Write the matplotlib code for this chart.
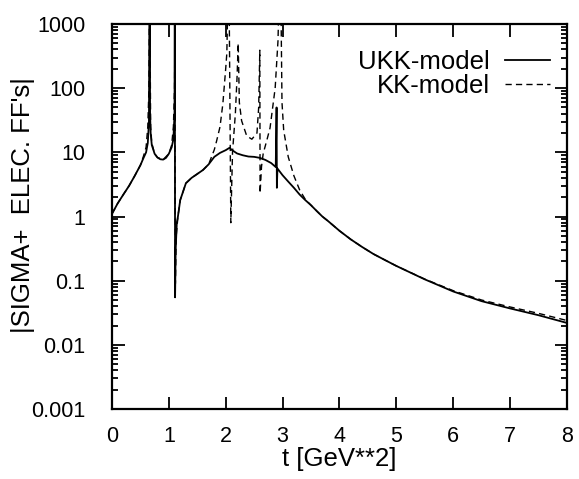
import numpy as np
import matplotlib
matplotlib.use("Agg")
import matplotlib.pyplot as plt
from matplotlib.ticker import FixedLocator, LogLocator, NullFormatter

# UKK-model (solid), |G_E| of Sigma+ vs t
t_ukk = [0.0, 0.1, 0.2, 0.3, 0.4, 0.5, 0.55, 0.6, 0.63, 0.65, 0.66, 0.665, 0.67,
         0.68, 0.7, 0.75, 0.8, 0.85, 0.9, 0.95, 1.0, 1.05, 1.08, 1.1, 1.105,
         1.11, 1.12, 1.14, 1.16, 1.2, 1.3, 1.4, 1.5, 1.6, 1.7, 1.8, 1.9, 2.0,
         2.07, 2.1, 2.2, 2.3, 2.4, 2.5, 2.6, 2.7, 2.8, 2.88, 2.895, 2.9, 2.91,
         3.0, 3.1, 3.2, 3.3, 3.4, 3.5, 3.6, 3.7, 3.8, 4.0, 4.2, 4.4, 4.6, 4.8,
         5.0, 5.5, 6.0, 6.5, 7.0, 7.5, 8.0]
ff_ukk = [1.1, 1.6, 2.2, 3.0, 4.3, 6.3, 8.0, 10.0, 14.0, 30.0, 3000, 3000, 40.0,
          20.0, 13.0, 9.5, 8.3, 7.8, 7.7, 8.2, 9.5, 12.0, 16.0, 40.0, 3000,
          0.055, 0.3, 0.8, 1.0, 1.8, 3.3, 4.0, 4.6, 5.3, 6.5, 8.5, 9.8, 10.8,
          11.8, 11.0, 9.6, 9.0, 8.6, 8.5, 8.2, 7.6, 6.8, 5.9, 50.0, 2.8, 5.6,
          4.4, 3.5, 2.8, 2.2, 1.8, 1.5, 1.22, 1.0, 0.85, 0.6, 0.44, 0.335, 0.26,
          0.21, 0.17, 0.105, 0.068, 0.048, 0.037, 0.029, 0.022]

# KK-model (dashed)
t_kk = [0.0, 0.1, 0.2, 0.3, 0.4, 0.5, 0.55, 0.6, 0.63, 0.65, 0.66, 0.665, 0.68,
        0.7, 0.75, 0.8, 0.9, 1.0, 1.05, 1.08, 1.1, 1.105, 1.115, 1.13, 1.16,
        1.2, 1.3, 1.4, 1.5, 1.6, 1.7, 1.8, 1.84, 1.9, 1.95, 2.0, 2.02, 2.04,
        2.06, 2.09, 2.12, 2.17, 2.2, 2.22, 2.24, 2.28, 2.37, 2.46, 2.55, 2.58,
        2.6, 2.605, 2.63, 2.66, 2.72, 2.78, 2.87, 2.92, 2.94, 2.97, 2.99, 3.02,
        3.1, 3.2, 3.3, 3.4, 3.5, 3.6, 3.7, 3.8, 4.0, 4.2, 4.4, 4.6, 4.8, 5.0,
        5.5, 6.0, 6.5, 7.0, 7.5, 8.0]
ff_kk = [1.1, 1.6, 2.2, 3.0, 4.3, 6.3, 8.5, 12.0, 25.0, 100.0, 3000, 3000, 25.0,
         14.0, 9.5, 8.3, 7.7, 9.5, 13.0, 25.0, 100.0, 400.0, 0.09, 0.5, 1.0,
         1.8, 3.3, 4.0, 4.6, 5.3, 6.5, 11.0, 15.0, 25.0, 57.0, 200.0, 350.0, 3000,
         3000, 0.8, 10.0, 40.0, 150.0, 500.0, 60.0, 31.0, 18.0, 16.0, 20.0, 50.0,
         390.0, 2.3, 6.0, 9.6, 15.0, 24.0, 100.0, 550.0, 3000, 3000, 60.0, 22.0,
         8.5, 4.3, 2.6, 1.85, 1.5, 1.22, 1.0, 0.85, 0.6, 0.44, 0.335, 0.26,
         0.21, 0.17, 0.106, 0.07, 0.05, 0.039, 0.031, 0.024]

x_ticks = [0, 1, 2, 3, 4, 5, 6, 7, 8]
y_ticks = [0.001, 0.01, 0.1, 1, 10, 100, 1000]
y_tick_labels = ["0.001", "0.01", "0.1", "1", "10", "100", "1000"]

plt.rcParams['font.family'] = ['Liberation Sans', 'DejaVu Sans']

fig = plt.figure(figsize=(5.79, 4.79), dpi=100)
ax = fig.add_axes([0.1934, 0.146, 0.7856, 0.804])

ax.plot(t_ukk, ff_ukk, color='black', linewidth=1.3, label='UKK-model')
ax.plot(t_kk, ff_kk, color='black', linewidth=1.0, linestyle=(0, (4.5, 3)),
        label='KK-model')

ax.set_yscale('log')
ax.set_xlim(0, 8)
ax.set_ylim(0.001, 1000)
ax.set_xticks(x_ticks)
ax.set_xticklabels([str(v) for v in x_ticks])
ax.yaxis.set_major_locator(FixedLocator(y_ticks))
ax.set_yticklabels(y_tick_labels)
ax.yaxis.set_minor_locator(LogLocator(base=10, subs=np.arange(2, 10)))
ax.yaxis.set_minor_formatter(NullFormatter())

ax.tick_params(which='both', direction='in', top=True, right=True,
               labelsize=15.5, width=1.3)
ax.tick_params(which='major', length=9)
ax.tick_params(axis='y', which='major', pad=19)
ax.tick_params(axis='x', which='major', pad=12)
ax.tick_params(which='minor', length=4.5)
for sp in ax.spines.values():
    sp.set_linewidth(1.6)

ax.set_xlabel("t [GeV**2]", fontsize=18.5, labelpad=0)
ax.set_ylabel("|SIGMA+  ELEC. FF's|", fontsize=18.5)
ax.yaxis.set_label_coords(-0.17, 0.53)

ax.legend(loc='upper right', frameon=False, markerfirst=False, fontsize=18.5,
          handlelength=1.75, handletextpad=0.6, labelspacing=0.0,
          borderpad=0, bbox_to_anchor=(0.963, 0.933), borderaxespad=0)

fig.savefig("out.png", dpi=100)
